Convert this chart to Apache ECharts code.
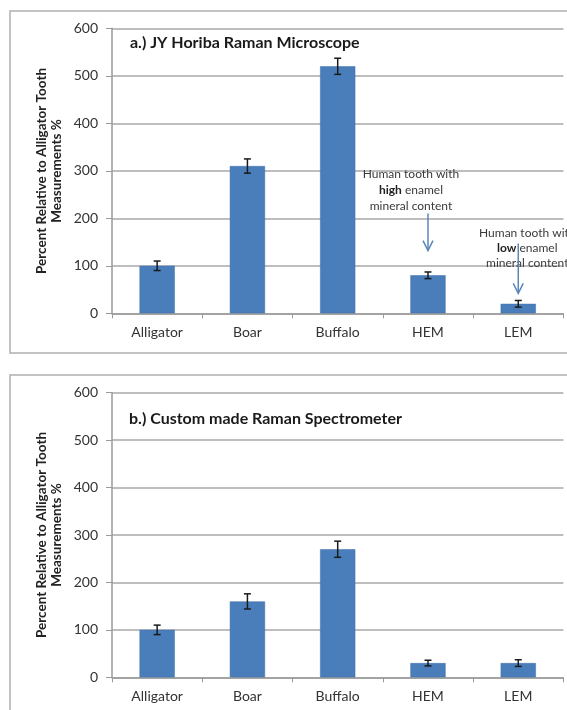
<!DOCTYPE html>
<html>
<head>
<meta charset="utf-8">
<script src="https://cdn.jsdelivr.net/npm/echarts@6/dist/echarts.min.js"></script>
<style>
html,body{margin:0;padding:0;background:#fff;}
#c{width:567px;height:710px;}
</style>
</head>
<body>
<div id="c"></div>
<script>
var categories = ['Alligator', 'Boar', 'Buffalo', 'HEM', 'LEM'];
var valuesA = [100, 310, 520, 80, 20];
var errorsA = [10, 15, 17, 7, 7];
var valuesB = [100, 160, 270, 30, 30];
var errorsB = [10, 16, 17, 6, 7];
var yTicks = [0, 100, 200, 300, 400, 500, 600];
var titleA = 'a.) JY Horiba Raman Microscope';
var titleB = 'b.) Custom made Raman Spectrometer';
var yNameLines = ['Percent Relative to Alligator Tooth', 'Measurements %'];
// annotation arrows in panel a: [category index, start value, end value]
var arrowsA = [[3, 210, 132], [4, 147, 42]];

var FONT = 'Lato, "Open Sans", sans-serif';
var chart = echarts.init(document.getElementById('c'));

function xAxis(gi) {
  return {
    type: 'category', gridIndex: gi, data: categories,
    axisLine: {lineStyle: {color: '#9a9a9a', width: 1.5}},
    axisTick: {show: true, length: 5, lineStyle: {color: '#9a9a9a'}},
    axisLabel: {color: '#333', fontFamily: FONT, fontSize: 14, margin: 12}
  };
}
function yAxis(gi) {
  return {
    type: 'value', gridIndex: gi, min: 0, max: 600, interval: 100,
    axisLine: {show: true, lineStyle: {color: '#9a9a9a', width: 1.5}},
    axisTick: {show: true, length: 6, lineStyle: {color: '#9a9a9a'}},
    splitLine: {lineStyle: {color: '#a8a8a8', width: 1.5}},
    axisLabel: {color: '#333', fontFamily: FONT, fontSize: 14, margin: 14,
      formatter: function (v) { return yTicks.indexOf(v) >= 0 ? String(v) : ''; }}
  };
}
function bars(gi, vals) {
  return {
    type: 'bar', xAxisIndex: gi, yAxisIndex: gi, data: vals, barWidth: '39%',
    itemStyle: {color: '#4a7ebb', borderColor: '#3f6fa8', borderWidth: 0.5},
    z: 2
  };
}
function errs(gi, vals, es) {
  var d = vals.map(function (v, i) { return [i, v - es[i], v + es[i]]; });
  return {
    type: 'custom', xAxisIndex: gi, yAxisIndex: gi, data: d, z: 5,
    renderItem: function (params, api) {
      var lo = api.coord([api.value(0), api.value(1)]);
      var hi = api.coord([api.value(0), api.value(2)]);
      var w = 3.5;
      var st = {stroke: '#1a1a1a', lineWidth: 1.5};
      return {type: 'group', children: [
        {type: 'line', shape: {x1: hi[0], y1: hi[1], x2: lo[0], y2: lo[1]}, style: st},
        {type: 'line', shape: {x1: hi[0]-w, y1: hi[1], x2: hi[0]+w, y2: hi[1]}, style: st},
        {type: 'line', shape: {x1: lo[0]-w, y1: lo[1], x2: lo[0]+w, y2: lo[1]}, style: st}
      ]};
    }
  };
}
var arrowSeries = {
  type: 'custom', xAxisIndex: 0, yAxisIndex: 0, data: arrowsA, z: 6, silent: true,
  renderItem: function (params, api) {
    var a = api.coord([api.value(0), api.value(1)]);
    var b = api.coord([api.value(0), api.value(2)]);
    var st = {stroke: '#5b86b8', lineWidth: 1.5, fill: 'none'};
    return {type: 'group', children: [
      {type: 'line', shape: {x1: a[0], y1: a[1], x2: b[0], y2: b[1]}, style: st},
      {type: 'polyline', shape: {points: [[b[0]-5, b[1]-10], [b[0], b[1]], [b[0]+5, b[1]-10]]}, style: st}
    ]};
  }
};
var annoSeries = {
  type: 'scatter', xAxisIndex: 0, yAxisIndex: 0, data: [], silent: true,
  markPoint: {
    silent: true, animation: false, symbol: 'circle', symbolSize: 0,
    data: [
      {coord: ['HEM', 259], label: {show: true, offset: [-17, 0], formatter: 'Human tooth with\n{b|high} enamel\nmineral content',
        color: '#3a3a3a', fontFamily: FONT, fontSize: 12, lineHeight: 16, align: 'center', verticalAlign: 'middle',
        rich: {b: {fontWeight: 'bold', fontFamily: FONT, fontSize: 12, color: '#222', lineHeight: 16}}}},
      {coord: ['LEM', 137], label: {show: true, offset: [9, 0], formatter: 'Human tooth with\n{b|low} enamel\nmineral content',
        color: '#3a3a3a', fontFamily: FONT, fontSize: 12, lineHeight: 15, align: 'center', verticalAlign: 'middle',
        rich: {b: {fontWeight: 'bold', fontFamily: FONT, fontSize: 12, color: '#222', lineHeight: 15}}}}
    ]
  }
};

function yNameTexts(cy) {
  return yNameLines.map(function (t, i) {
    return {type: 'text', x: 42 + i * 15, y: cy, rotation: Math.PI / 2, z: 10,
      style: {text: t, fill: '#222', font: 'bold 13.5px ' + FONT,
        align: 'center', verticalAlign: 'middle', textAlign: 'center', textVerticalAlign: 'middle'}};
  });
}

var option = {
  animation: false,
  backgroundColor: '#fff',
  grid: [
    {left: 112, right: 3.6, top: 28.3, bottom: 396.7, containLabel: false},
    {left: 112, right: 3.6, top: 392.7, bottom: 32.7, containLabel: false}
  ],
  xAxis: [xAxis(0), xAxis(1)],
  yAxis: [yAxis(0), yAxis(1)],
  graphic: [
    {type: 'rect', shape: {x: 10, y: 11, width: 570, height: 342}, style: {fill: 'none', stroke: '#b0b0b0', lineWidth: 1.5}, z: -1},
    {type: 'rect', shape: {x: 10, y: 375, width: 570, height: 350}, style: {fill: 'none', stroke: '#b0b0b0', lineWidth: 1.5}, z: -1},
    {type: 'text', left: 130, top: 35, style: {text: titleA, fill: '#1a1a1a', font: 'bold 16px ' + FONT}, z: 10},
    {type: 'text', left: 129, top: 411, style: {text: titleB, fill: '#1a1a1a', font: 'bold 16px ' + FONT}, z: 10}
  ].concat(yNameTexts(171), yNameTexts(535)),
  series: [
    bars(0, valuesA), errs(0, valuesA, errorsA),
    bars(1, valuesB), errs(1, valuesB, errorsB),
    arrowSeries, annoSeries
  ]
};
chart.setOption(option);
</script>
</body>
</html>
